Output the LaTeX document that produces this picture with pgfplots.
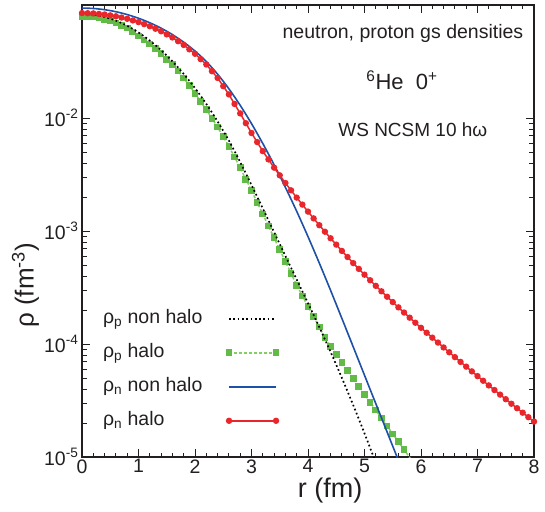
\documentclass[border=0pt]{standalone}
\usepackage{fontspec}
\setmainfont{Liberation Sans}
\usepackage{pgfplots}
\pgfplotsset{compat=1.18}
\definecolor{cred}{RGB}{232,38,43}
\definecolor{cblue}{RGB}{31,80,168}
\definecolor{cgreen}{RGB}{98,187,70}
\definecolor{cgreenl}{RGB}{130,205,100}
\definecolor{ctext}{RGB}{35,31,32}
\newcommand{\tf}{\fontsize{19.5}{21}\selectfont}
\begin{document}
\begin{tikzpicture}
\begin{axis}[
  at={(0pt,0pt)}, anchor=south west,
  scale only axis, width=452pt, height=452pt,
  clip mode=individual,
  ymode=log, xmin=0, xmax=8, ymin=1e-5, ymax=1e-1,
  xtick={0,1,2,3,4,5,6,7,8}, minor x tick num=4,
  xticklabels={{\tf 0},{\tf 1},{\tf 2},{\tf 3},{\tf 4},{\tf 5},{\tf 6},{\tf 7},{\tf 8}},
  ytick={1e-5,1e-4,1e-3,1e-2},
  yticklabels={{\tf 10\textsuperscript{-5}},{\tf 10\textsuperscript{-4}},{\tf 10\textsuperscript{-3}},{\tf 10\textsuperscript{-2}}},
  tick label style={text=ctext},
  xticklabel style={yshift=1pt},
  major tick length=8pt, minor tick length=4.5pt,
  tick align=inside,
  axis line style={line width=1.1pt, ctext},
  every tick/.style={line width=0.9pt, ctext},
  legend style={draw=none, fill=none, at={(axis description cs:0.035,0.335)}, anchor=north west,
    font=\fontsize{19.5}{21}\selectfont, text=ctext, row sep=12pt,
    nodes={text height=14pt, text depth=4pt},
    /tikz/every odd column/.append style={column sep=22pt}},
  legend plot pos=right, legend cell align=left,
  legend image code/.code={\draw[#1] plot coordinates {(0pt,0pt) (47pt,0pt)};},
]
% proton halo (green)
\addplot[forget plot, cgreenl, line width=1.5pt, dash pattern=on 3pt off 2pt,
  mark=square*, mark size=2.6pt, mark options={solid, fill=cgreen, draw=cgreen}] coordinates {
(0,0.07943)(0.1,0.07883)(0.2,0.07825)(0.3,0.07652)(0.4,0.07484)(0.5,0.07208)(0.6,0.06943)(0.7,0.06589)(0.8,0.06252)(0.9,0.05774)
(1.0,0.05333)(1.1,0.04909)(1.2,0.04519)(1.3,0.04098)(1.4,0.03715)(1.5,0.03316)(1.6,0.02961)(1.7,0.02603)(1.8,0.02262)(1.9,0.01937)
(2.0,0.01658)(2.1,0.01395)(2.2,0.01187)(2.3,0.009931)(2.4,0.008308)(2.5,0.006831)(2.6,0.005617)(2.7,0.004513)(2.8,0.003627)(2.9,0.002874)
(3.0,0.002278)(3.1,0.001793)(3.2,0.001411)(3.3,0.001108)(3.4,0.0008700)(3.5,0.0006831)(3.6,0.0005364)(3.7,0.0004217)(3.8,0.0003315)(3.9,0.0002667)
(4.0,0.0002145)(4.1,0.0001740)(4.2,0.0001411)(4.3,0.0001148)(4.4,0.0000955)(4.5,0.00008035)(4.6,0.00006839)(4.7,0.00005821)(4.8,0.00004955)(4.9,0.00004217)
(5.0,0.00003589)(5.1,0.00003055)(5.2,0.00002600)(5.3,0.00002213)(5.4,0.00001884)(5.5,0.00001603)(5.6,0.00001365)(5.7,0.00001161)(5.8,0.000009886)(5.9,0.000008414)
};
% proton non halo (black dotted)
\addplot[forget plot, black, line width=1.7pt, dash pattern=on 1.7pt off 2.6pt, smooth] coordinates {
(0,0.08318)(0.2,0.08194)(0.4,0.07836)(0.6,0.07271)(0.8,0.06546)(1.0,0.05714)(1.2,0.04842)(1.4,0.03981)(1.6,0.03173)(1.8,0.02452)
(2.0,0.01839)(2.2,0.01332)(2.4,0.009322)(2.6,0.006303)(2.8,0.004069)(3.0,0.002555)(3.2,0.001583)(3.4,0.0009761)(3.6,0.0006019)(3.8,0.0003720)
(4.0,0.0002298)(4.2,0.0001411)(4.4,0.00008501)(4.6,0.00005006)(4.8,0.00002881)(5.0,0.00001620)(5.2,0.000008903)
};
% neutron non halo (blue)
\addplot[forget plot, cblue, line width=1.6pt, smooth] coordinates {
(0,0.09397)(0.2,0.09319)(0.4,0.09090)(0.6,0.08721)(0.8,0.08229)(1.0,0.07638)(1.2,0.06966)(1.4,0.06237)(1.6,0.05472)(1.8,0.04688)
(2.0,0.03914)(2.2,0.03158)(2.4,0.02442)(2.6,0.01813)(2.8,0.01295)(3.0,0.008920)(3.2,0.005947)(3.4,0.003859)(3.6,0.002434)(3.8,0.001494)
(4.0,0.000892)(4.2,0.0005205)(4.4,0.0002981)(4.6,0.0001683)(4.8,0.0000945)(5.0,0.00005294)(5.2,0.00002967)(5.4,0.00001665)(5.6,0.00000934)
};
% neutron halo (red)
\addplot[forget plot, cred, line width=1.5pt, mark=*, mark size=2.4pt, mark options={fill=cred, draw=cred}] coordinates {
(0,0.08491)(0.1,0.08460)(0.2,0.08429)(0.3,0.08336)(0.4,0.08246)(0.5,0.08095)(0.6,0.07947)(0.7,0.07744)(0.8,0.07548)(0.9,0.07301)
(1.0,0.07063)(1.1,0.06773)(1.2,0.06495)(1.3,0.06166)(1.4,0.05853)(1.5,0.05495)(1.6,0.05159)(1.7,0.04782)(1.8,0.04432)(1.9,0.04052)
(2.0,0.03703)(2.1,0.03319)(2.2,0.02976)(2.3,0.02594)(2.4,0.02263)(2.5,0.01913)(2.6,0.01617)(2.7,0.01332)(2.8,0.01098)(2.9,0.008997)
(3.0,0.007372)(3.1,0.006125)(3.2,0.005089)(3.3,0.004301)(3.4,0.003636)(3.5,0.003109)(3.6,0.002659)(3.7,0.002291)(3.8,0.001975)(3.9,0.001713)
(4.0,0.001485)(4.1,0.001293)(4.2,0.001126)(4.3,0.0009854)(4.4,0.0008622)(4.5,0.0007579)(4.6,0.0006662)(4.7,0.0005885)(4.8,0.0005201)(4.9,0.0004621)
(5.0,0.0004108)(5.1,0.0003666)(5.2,0.0003272)(5.3,0.0002928)(5.4,0.0002620)(5.5,0.0002352)(5.6,0.0002111)(5.7,0.0001899)(5.8,0.0001709)(5.9,0.0001543)
(6.0,0.0001392)(6.1,0.0001258)(6.2,0.0001138)(6.3,0.0001030)(6.4,0.00009324)(6.5,0.00008449)(6.6,0.00007657)(6.7,0.00006947)(6.8,0.00006304)(6.9,0.00005725)
(7.0,0.00005201)(7.1,0.00004729)(7.2,0.00004301)(7.3,0.00003915)(7.4,0.00003566)(7.5,0.00003249)(7.6,0.00002962)(7.7,0.00002703)(7.8,0.00002467)(7.9,0.00002253)
(8.0,0.00002059)
};
\addlegendimage{black, line width=1.7pt, dash pattern=on 1.7pt off 2.6pt}
\addlegendentry{ρ\textsubscript{p} non halo}
\addlegendimage{cgreenl, line width=1.5pt, dash pattern=on 3pt off 2pt, mark=square*, mark size=2.6pt, mark options={solid, fill=cgreen, draw=cgreen}}
\addlegendentry{ρ\textsubscript{p} halo}
\addlegendimage{cblue, line width=1.6pt}
\addlegendentry{ρ\textsubscript{n} non halo}
\addlegendimage{cred, line width=1.5pt, mark=*, mark size=2.4pt, mark options={fill=cred, draw=cred}}
\addlegendentry{ρ\textsubscript{n} halo}
\node[text=ctext, font=\fontsize{19.5}{21}\selectfont] at (axis description cs:0.71,0.937) {neutron, proton gs densities};
\node[text=ctext, font=\fontsize{22}{24}\selectfont] at (axis description cs:0.708,0.834) {\textsuperscript{6}He\ \ 0\textsuperscript{+}};
\node[text=ctext, font=\fontsize{19}{21}\selectfont] at (axis description cs:0.732,0.723) {WS NCSM 10 hω};
\node[text=ctext, font=\fontsize{27}{29}\selectfont] at (axis description cs:0.549,-0.075) {r (fm)};
\node[text=ctext, font=\fontsize{26}{28}\selectfont, rotate=90] at (axis description cs:-0.125,0.38) {ρ (fm\textsuperscript{-3})};
\end{axis}
\pgfresetboundingbox
\path[use as bounding box] (-82pt,-54pt) rectangle (463pt,457pt);
\end{tikzpicture}
\end{document}
